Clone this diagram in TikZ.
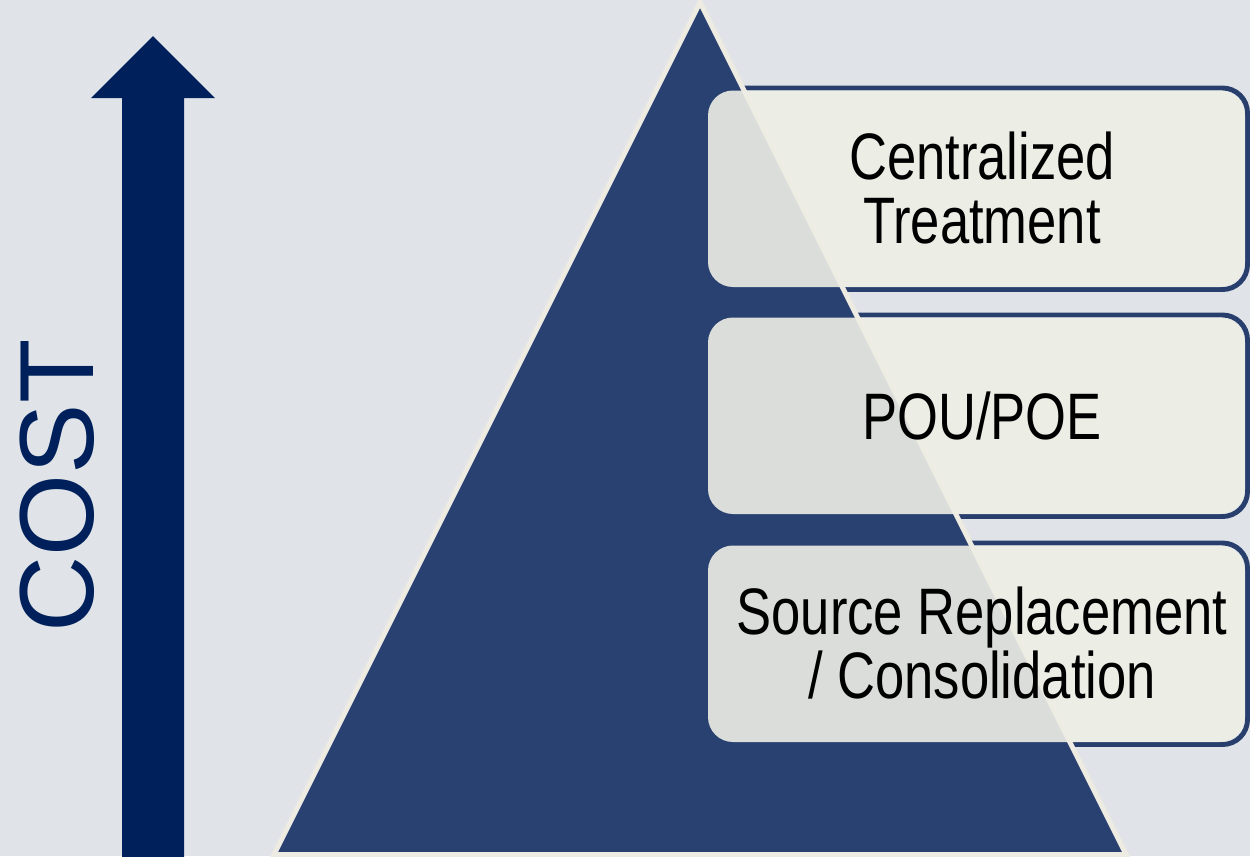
\documentclass[tikz,border=0pt]{standalone}
\usepackage{fontspec}
\setmainfont{Liberation Sans}
\newfontfamily\narrowfont{Liberation Sans}[FakeStretch=0.8]
\definecolor{bgc}{HTML}{E0E4E8}
\definecolor{tric}{HTML}{294170}
\definecolor{creamc}{HTML}{EEECE2}
\definecolor{arrowc}{HTML}{00205B}
\definecolor{borderc}{HTML}{283F6E}
\definecolor{fillc}{HTML}{EEEEE5}
\tikzset{
  boxborder/.style={draw=borderc, line width=2.8pt, rounded corners=0.5cm},
  boxfill/.style={fill=fillc, fill opacity=0.9, rounded corners=0.5cm},
  boxtext/.style={text=black, inner sep=0pt, align=center,
    font=\narrowfont\fontsize{37.4}{36.9}\selectfont},
}
\begin{document}
\begin{tikzpicture}[x=0.02cm, y=-0.02cm]
\useasboundingbox (0,0) rectangle (1250,856);
\fill[bgc] (0,0) rectangle (1250,856);
% borders behind the triangle
\draw[boxborder] (714,88) rectangle (1247.5,289.5);
\draw[boxborder] (714,315) rectangle (1247.5,516.5);
\draw[boxborder] (714,543) rectangle (1247.5,744.5);
% pyramid
\draw[fill=tric, draw=creamc, line width=2.8pt, line join=miter]
  (700,2.5) -- (1126,854.5) -- (274,854.5) -- cycle;
% boxes
\fill[boxfill] (708,90.5) rectangle (1245,287);
\fill[boxfill] (708,317.5) rectangle (1245,514);
\fill[boxfill] (708,545.5) rectangle (1245,742);
\node[boxtext] (t1) at (982,188) {Centralized\\Treatment};
\node[boxtext] (t2) at (982,416) {POU/POE};
\node[boxtext] (t3) at (982,643) {Source Replacement\\/ Consolidation};
% arrow
\fill[arrowc] (122,860) -- (122,98) -- (91,98) -- (153,36) -- (215,98) -- (184,98) -- (184,860) -- cycle;
\node[rotate=90, anchor=base, inner sep=0pt, text=arrowc,
  font=\fontsize{60}{60}\selectfont] (cost) at (93,486) {COST};
\end{tikzpicture}
\end{document}
